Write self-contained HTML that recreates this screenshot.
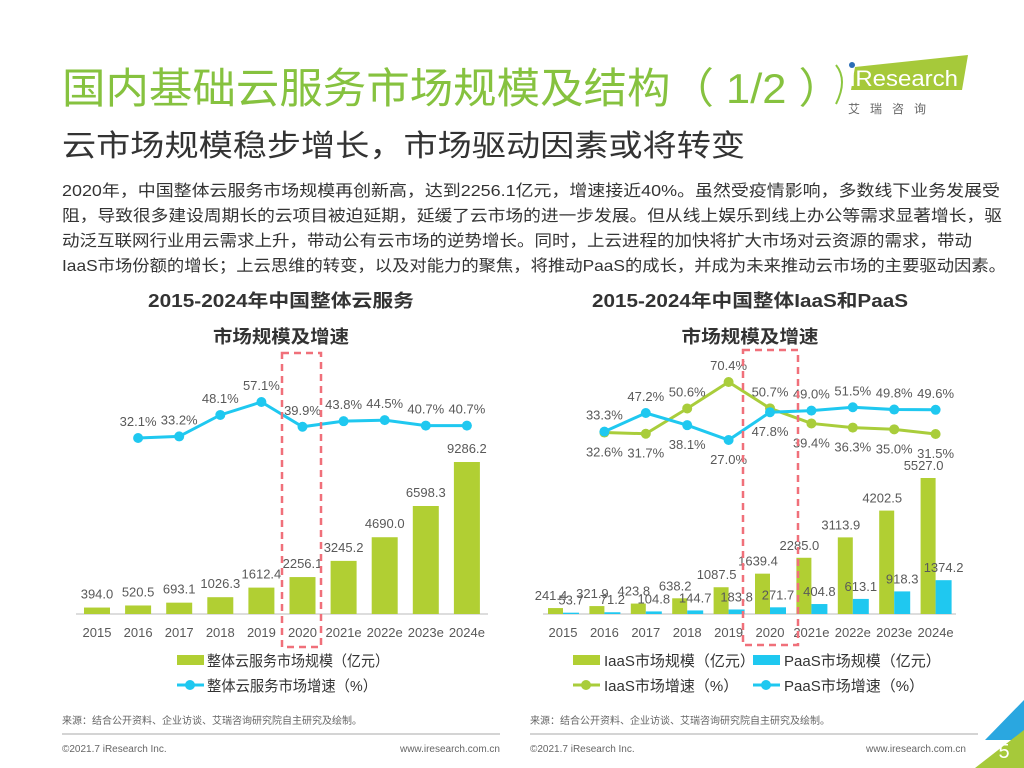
<!DOCTYPE html>
<html><head><meta charset="utf-8">
<style>
html,body{margin:0;padding:0;background:#fff;}
svg{display:block;font-family:"Liberation Sans","Noto Sans CJK SC",sans-serif;}
</style></head>
<body>
<svg id="page" width="1024" height="768" viewBox="0 0 1024 768">
<text x="62" y="103" font-size="42" fill="#86c23f" textLength="780" lengthAdjust="spacingAndGlyphs">国内基础云服务市场规模及结构（ 1/2 ）</text>
<g>
<path d="M855 67 L968 55 L962 90 L851 90 Z" fill="#a6c93a"/>
<circle cx="852" cy="65" r="3" fill="#2a6db5"/>
<path d="M836 65 Q848 80 836 104" stroke="#8cc63f" stroke-width="2" fill="none"/>
<text x="850" y="86" font-size="22" fill="#fff" textLength="108" lengthAdjust="spacingAndGlyphs">iResearch</text>
<text x="848" y="113" font-size="12" fill="#666" letter-spacing="10">艾瑞咨询</text>
</g>
<text x="62" y="156" font-size="30" fill="#333" textLength="683" lengthAdjust="spacingAndGlyphs">云市场规模稳步增长，市场驱动因素或将转变</text>
<g font-size="16" fill="#333" lengthAdjust="spacingAndGlyphs">
<text x="62" y="196" textLength="938" lengthAdjust="spacingAndGlyphs">2020年，中国整体云服务市场规模再创新高，达到2256.1亿元，增速接近40%。虽然受疫情影响，多数线下业务发展受</text>
<text x="62" y="221" textLength="940" lengthAdjust="spacingAndGlyphs">阻，导致很多建设周期长的云项目被迫延期，延缓了云市场的进一步发展。但从线上娱乐到线上办公等需求显著增长，驱</text>
<text x="62" y="246" textLength="910" lengthAdjust="spacingAndGlyphs">动泛互联网行业用云需求上升，带动公有云市场的逆势增长。同时，上云进程的加快将扩大市场对云资源的需求，带动</text>
<text x="62" y="271" textLength="944" lengthAdjust="spacingAndGlyphs">IaaS市场份额的增长；上云思维的转变，以及对能力的聚焦，将推动PaaS的成长，并成为未来推动云市场的主要驱动因素。</text>
</g>
<g font-size="18" font-weight="bold" fill="#333" text-anchor="middle">
<text x="281" y="307" textLength="266" lengthAdjust="spacingAndGlyphs">2015-2024年中国整体云服务</text>
<text x="281" y="343" textLength="136" lengthAdjust="spacingAndGlyphs">市场规模及增速</text>
<text x="750" y="307" textLength="316" lengthAdjust="spacingAndGlyphs">2015-2024年中国整体IaaS和PaaS</text>
<text x="750" y="343" textLength="137" lengthAdjust="spacingAndGlyphs">市场规模及增速</text>
</g>
<g id="left"></g>
<g id="right"></g>
<rect x="282" y="353" width="39" height="294" fill="none" stroke="#f0707a" stroke-width="2.5" stroke-dasharray="7,5"/>
<rect x="743" y="350" width="55" height="295" fill="none" stroke="#f0707a" stroke-width="2.5" stroke-dasharray="7,5"/>
<g font-size="15" fill="#333">
<rect x="177" y="655" width="27" height="10" fill="#b1cf33"/>
<text x="207" y="666" textLength="182" lengthAdjust="spacingAndGlyphs">整体云服务市场规模（亿元）</text>
<line x1="177" y1="685" x2="204" y2="685" stroke="#1fc8f0" stroke-width="3"/>
<circle cx="190" cy="685" r="5" fill="#1fc8f0"/>
<text x="207" y="691" textLength="170" lengthAdjust="spacingAndGlyphs">整体云服务市场增速（%）</text>
<rect x="573" y="655" width="27" height="10" fill="#b1cf33"/>
<text x="604" y="666">IaaS市场规模（亿元）</text>
<rect x="753" y="655" width="27" height="10" fill="#1fc8f0"/>
<text x="784" y="666">PaaS市场规模（亿元）</text>
<line x1="573" y1="685" x2="600" y2="685" stroke="#a9cd3b" stroke-width="3"/>
<circle cx="586" cy="685" r="5" fill="#a9cd3b"/>
<text x="604" y="691">IaaS市场增速（%）</text>
<line x1="753" y1="685" x2="780" y2="685" stroke="#1fc8f0" stroke-width="3"/>
<circle cx="766" cy="685" r="5" fill="#1fc8f0"/>
<text x="784" y="691">PaaS市场增速（%）</text>
</g>
<g font-size="10" fill="#666">
<text x="62" y="724">来源：结合公开资料、企业访谈、艾瑞咨询研究院自主研究及绘制。</text>
<text x="530" y="724">来源：结合公开资料、企业访谈、艾瑞咨询研究院自主研究及绘制。</text>
<line x1="62" y1="734" x2="500" y2="734" stroke="#aaa"/>
<line x1="530" y1="734" x2="978" y2="734" stroke="#aaa"/>
<text x="62" y="752">©2021.7 iResearch Inc.</text>
<text x="500" y="752" text-anchor="end">www.iresearch.com.cn</text>
<text x="530" y="752">©2021.7 iResearch Inc.</text>
<text x="966" y="752" text-anchor="end">www.iresearch.com.cn</text>
</g>
<g>
<path d="M1024 700 L985 740 L1024 740 Z" fill="#2aa7e0"/>
<path d="M1024 730 L975 768 L1024 768 Z" fill="#a6c93a"/>
<text x="1004" y="758" font-size="20" fill="#fff" text-anchor="middle">5</text>
</g>
</svg>
<script>
const categories = ['2015','2016','2017','2018','2019','2020','2021e','2022e','2023e','2024e'];
const totalSize = [394.0,520.5,693.1,1026.3,1612.4,2256.1,3245.2,4690.0,6598.3,9286.2];
const totalGrowth = [null,32.1,33.2,48.1,57.1,39.9,43.8,44.5,40.7,40.7];
const iaasSize = [241.4,321.9,423.8,638.2,1087.5,1639.4,2285.0,3113.9,4202.5,5527.0];
const paasSize = [53.7,71.2,104.8,144.7,183.8,271.7,404.8,613.1,918.3,1374.2];
const iaasGrowth = [null,32.6,31.7,50.6,70.4,50.7,39.4,36.3,35.0,31.5];
const paasGrowth = [null,33.3,47.2,38.1,27.0,47.8,49.0,51.5,49.8,49.6];

const NS='http://www.w3.org/2000/svg';
function mk(parent,tag,attrs,text){const e=document.createElementNS(NS,tag);for(const k in attrs)e.setAttribute(k,attrs[k]);if(text!=null)e.textContent=text;parent.appendChild(e);return e;}
const fmt1=v=>v.toFixed(1);
const LBL='#595959';

// Left chart
(function(){
  const g=document.getElementById('left');
  const base=614, x0=97, step=41.1, bw=26;
  const xS=i=>x0+i*step;
  const yB=v=>base-v*152/9286.2;
  const yL=p=>438-(p-32.1)*1.44;
  const ax=mk(g,'line',{x1:76,y1:base,x2:488,y2:base,stroke:'#bbb','stroke-width':1});
  
  
  categories.forEach((c,i)=>{
    const r=mk(g,'rect',{x:xS(i)-bw/2,y:yB(totalSize[i]),width:bw,height:base-yB(totalSize[i]),fill:'#b1cf33'});
    
    
    const t=mk(g,'text',{x:xS(i),y:yB(totalSize[i])-9,'font-size':13,fill:LBL,'text-anchor':'middle'},fmt1(totalSize[i]));
    
    
    const tk=mk(g,'text',{x:xS(i),y:base+23,'font-size':13,fill:LBL,'text-anchor':'middle'},c);
    
    
  });
  let d='';totalGrowth.forEach((p,i)=>{if(p==null)return;d+=(d?'L':'M')+xS(i)+' '+yL(p);});
  const pl=mk(g,'path',{d:d,stroke:'#1fc8f0','stroke-width':3,fill:'none'});
  
  
  totalGrowth.forEach((p,i)=>{if(p==null)return;
    const c=mk(g,'circle',{cx:xS(i),cy:yL(p),r:5,fill:'#1fc8f0'});
    
    
    const t=mk(g,'text',{x:xS(i),y:yL(p)-12,'font-size':13,fill:LBL,'text-anchor':'middle'},fmt1(p)+'%');
    
    
  });
})();

// Right chart
(function(){
  const g=document.getElementById('right');
  const base=614, x0=563, step=41.4, bw=15;
  const xS=i=>x0+i*step;
  const yB=v=>base-v*136/5527.0;
  const yL=p=>382-(p-70.4)*1.337;
  const ax=mk(g,'line',{x1:543,y1:base,x2:956,y2:base,stroke:'#bbb','stroke-width':1});
  
  
  categories.forEach((c,i)=>{
    const r1=mk(g,'rect',{x:xS(i)-bw,y:yB(iaasSize[i]),width:bw,height:base-yB(iaasSize[i]),fill:'#b1cf33'});
    
    
    const r2=mk(g,'rect',{x:xS(i),y:yB(paasSize[i]),width:bw+1,height:base-yB(paasSize[i]),fill:'#1fc8f0'});
    
    
    const t1=mk(g,'text',{x:xS(i)-12,y:yB(iaasSize[i])-8,'font-size':13,fill:LBL,'text-anchor':'middle'},fmt1(iaasSize[i]));
    
    
    const t2=mk(g,'text',{x:xS(i)+8,y:yB(paasSize[i])-8,'font-size':13,fill:LBL,'text-anchor':'middle'},fmt1(paasSize[i]));
    
    
    const tk=mk(g,'text',{x:xS(i),y:base+23,'font-size':13,fill:LBL,'text-anchor':'middle'},c);
    
    
  });
  function series(arr,color,name){
    let d='';arr.forEach((p,i)=>{if(p==null)return;d+=(d?'L':'M')+xS(i)+' '+yL(p);});
    const pl=mk(g,'path',{d:d,stroke:color,'stroke-width':3,fill:'none'});
    
    
    arr.forEach((p,i)=>{if(p==null)return;
      const c=mk(g,'circle',{cx:xS(i),cy:yL(p),r:5,fill:color});
      
      
    });
  }
  series(iaasGrowth,'#a9cd3b','iaas-growth');
  series(paasGrowth,'#1fc8f0','paas-growth');
  categories.forEach((c,i)=>{
    const a=iaasGrowth[i], b=paasGrowth[i]; if(a==null)return;
    const aAbove=a>=b;
    const ta=mk(g,'text',{x:xS(i),y:aAbove?yL(a)-12:yL(a)+24,'font-size':13,fill:LBL,'text-anchor':'middle'},fmt1(a)+'%');
    
    
    const tb=mk(g,'text',{x:xS(i),y:aAbove?yL(b)+24:yL(b)-12,'font-size':13,fill:LBL,'text-anchor':'middle'},fmt1(b)+'%');
    
    
  });
})();
</script>
</body></html>
